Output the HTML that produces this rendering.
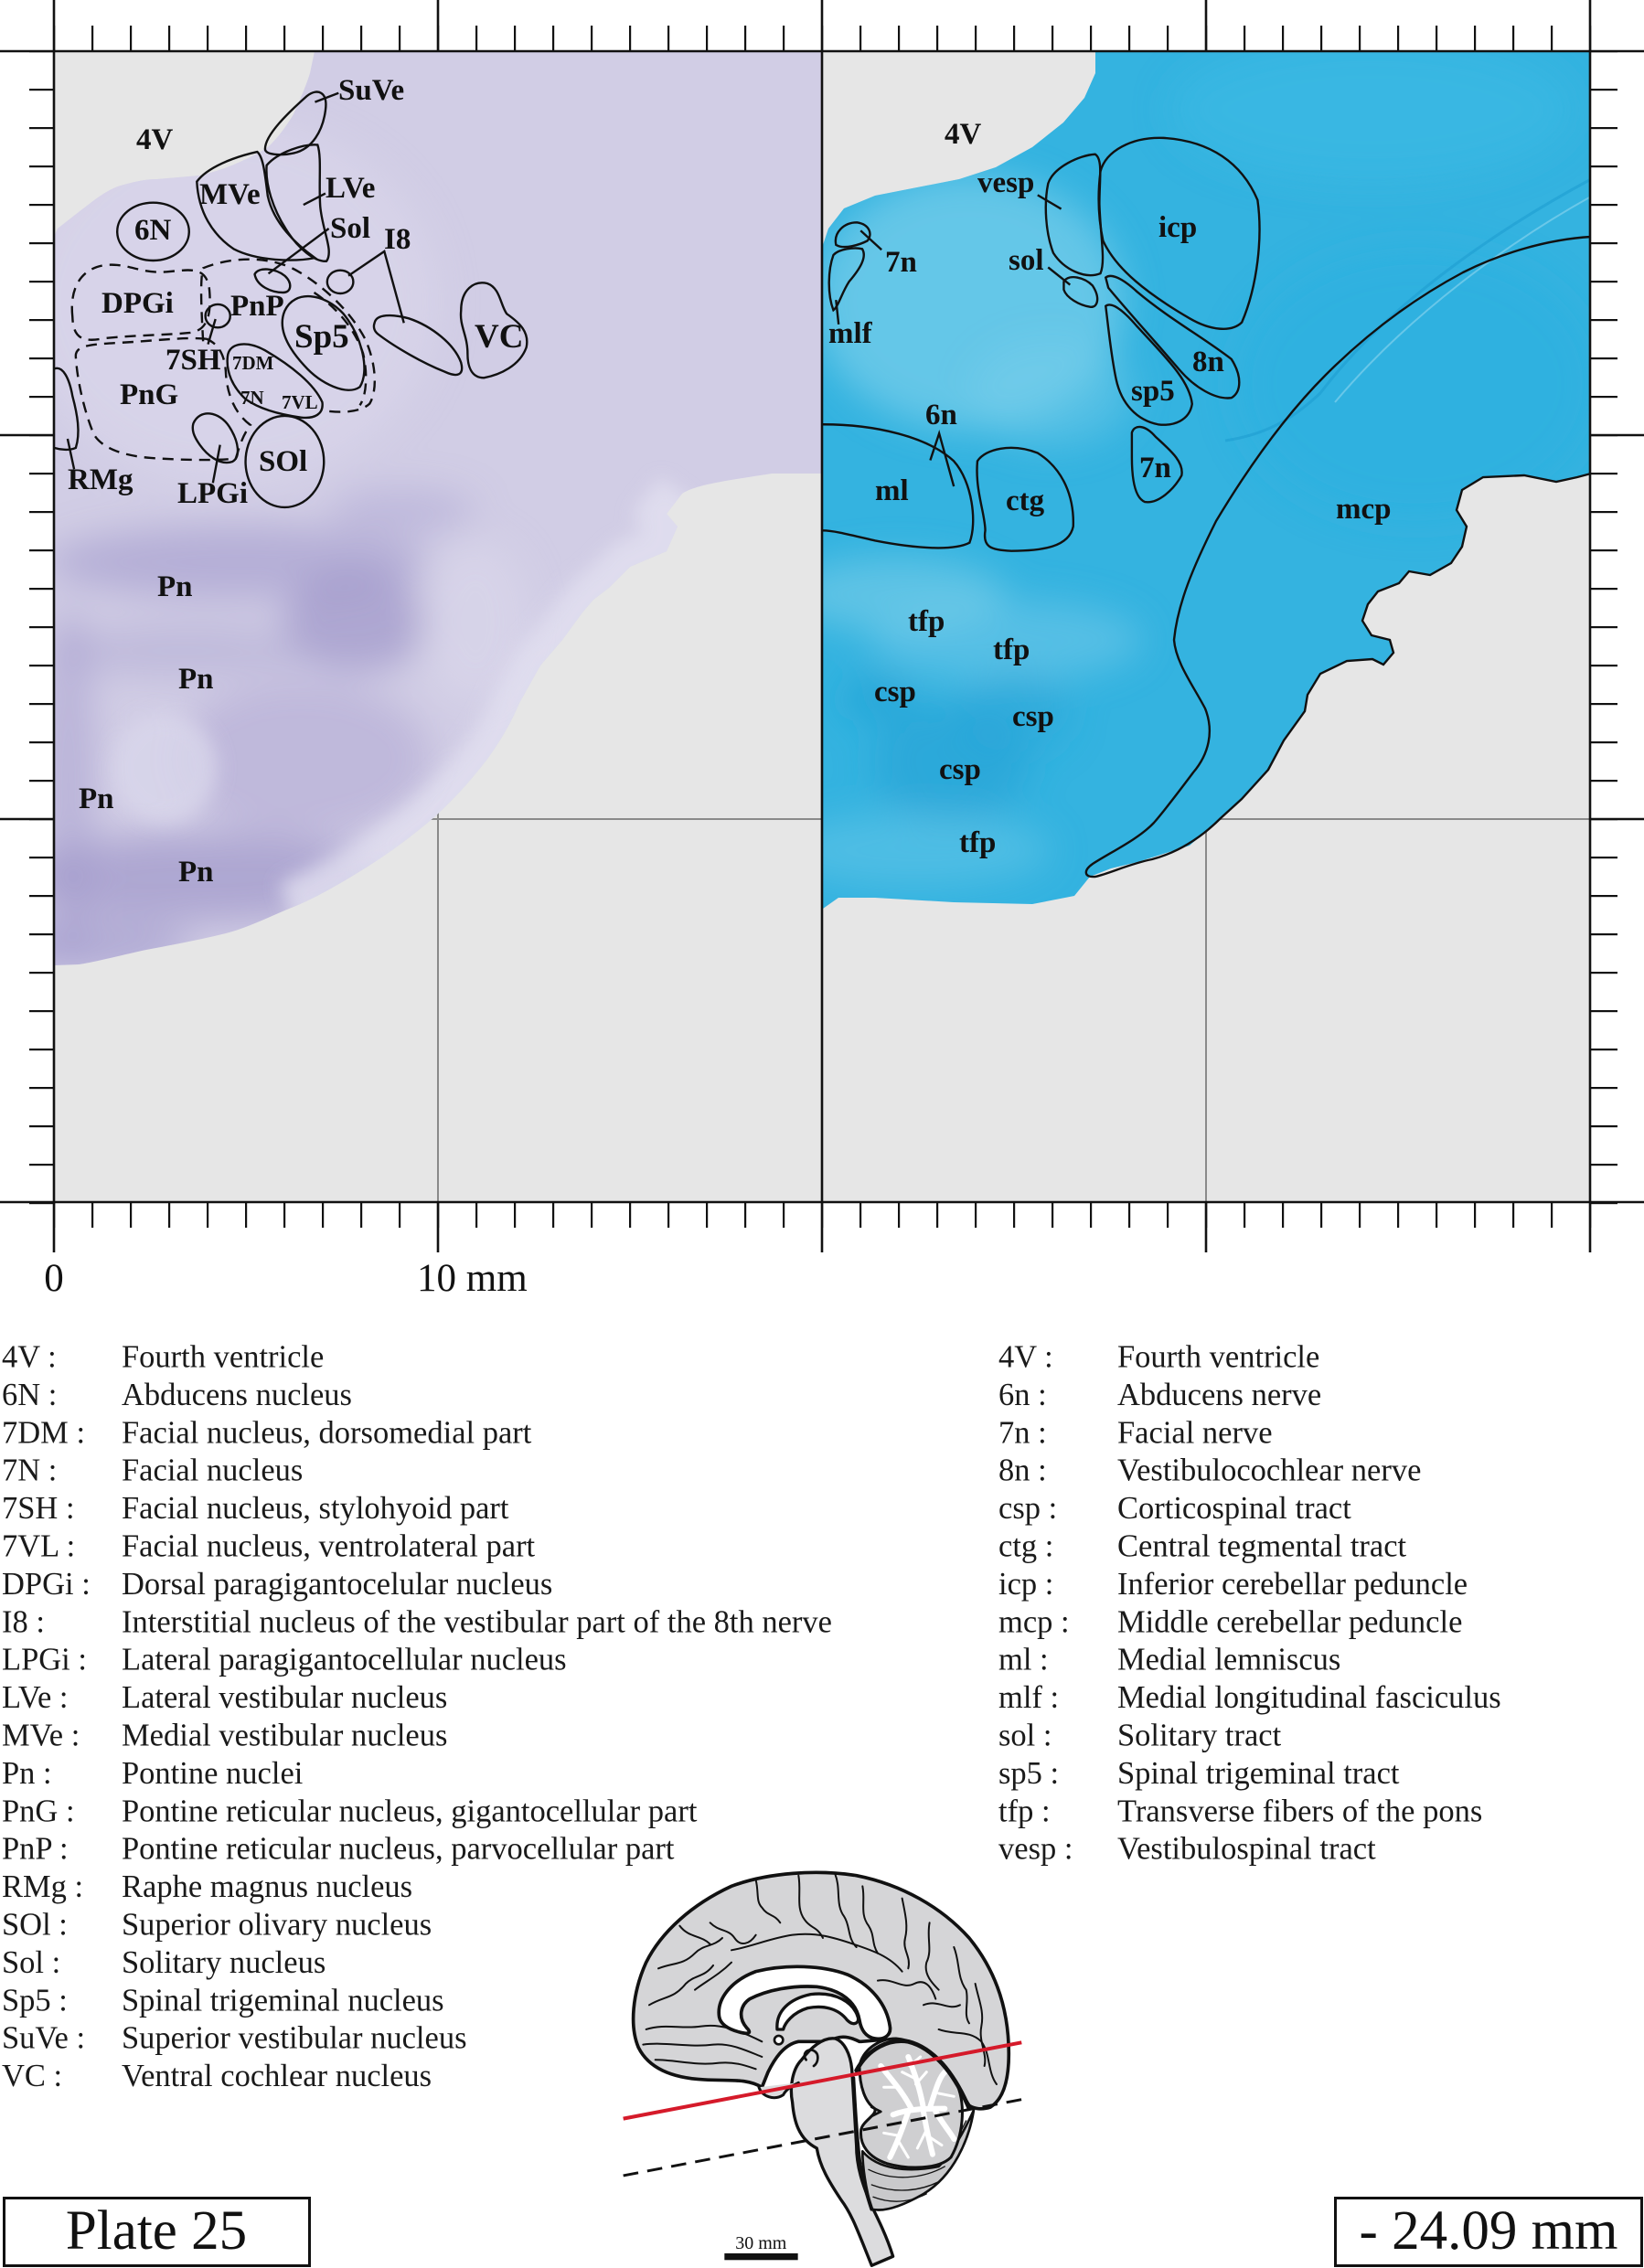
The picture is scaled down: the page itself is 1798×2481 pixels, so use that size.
<!DOCTYPE html>
<html><head><meta charset="utf-8">
<style>
html,body{margin:0;padding:0;background:#fff;}
svg{display:block;}
.lb{font-family:"Liberation Serif",serif;font-weight:bold;font-size:33px;fill:#111;}
.sm{font-family:"Liberation Serif",serif;font-weight:bold;font-size:21px;fill:#111;}
.lg{font-family:"Liberation Serif",serif;font-size:34.5px;fill:#1a1a1a;}
.ax{font-family:"Liberation Serif",serif;font-size:43px;fill:#111;}
.ol{fill:none;stroke:#111;stroke-width:2.4;vector-effect:non-scaling-stroke;}
.ds{fill:none;stroke:#111;stroke-width:2.4;stroke-dasharray:12 8;vector-effect:non-scaling-stroke;}
</style></head>
<body>
<svg width="1798" height="2481" viewBox="0 0 1798 2481" xmlns="http://www.w3.org/2000/svg">
<defs>
<clipPath id="cl"><path d="M344,56 L899,56 L899,518 L844,518 C800,525 760,530 746,540 L729,562 L741,576 L729,603 L689,620 L666,643 L649,656 L637,670 L615,700 L591,728 L568,769 C555,800 540,820 534,829 C510,860 495,875 476,893 C450,915 430,930 402,948 C370,968 340,985 316,994 C290,1005 270,1015 247,1021 C210,1030 180,1035 155,1040 C120,1048 100,1053 86,1055 L59,1056 L59,259 L63,250 L86,232 L103,219 C115,210 125,205 132,203 C150,198 160,196 172,196 L218,192 C235,188 250,183 258,179 C275,172 285,166 293,161 C305,150 315,135 321,125 C330,105 336,90 339,80 Z"/></clipPath>
<clipPath id="cr"><path d="M1198,56 L1740,56 L1740,518 L1725,522 L1702,527 L1667,520 L1622,522 L1599,536 L1593,558 L1604,576 L1599,598 L1587,616 L1564,629 L1541,625 L1530,638 L1507,647 L1496,661 L1490,679 L1500,695 L1520,700 L1524,714 L1513,727 L1501,721 L1473,723 L1444,737 L1430,760 L1427,778 L1404,810 L1387,842 L1358,874 L1335,895 L1301,925 L1244,943 L1215,950 L1192,959 L1175,980 L1129,989 L1043,987 L957,982 L917,982 L900,994 L900,268 L906,250 L923,228 L957,214 L1003,205 L1049,196 L1089,183 L1129,161 L1163,134 L1186,107 L1198,80 Z"/></clipPath>
<filter id="bl" x="-20%" y="-20%" width="140%" height="140%"><feGaussianBlur stdDeviation="20"/></filter>
<filter id="bl2" x="-20%" y="-20%" width="140%" height="140%"><feGaussianBlur stdDeviation="10"/></filter>
<pattern id="ptop" patternUnits="userSpaceOnUse" x="58" y="0" width="42" height="2481"><rect x="0" y="0" width="2.2" height="2481" fill="#111"/></pattern>
<pattern id="pside" patternUnits="userSpaceOnUse" x="0" y="55" width="1798" height="42"><rect x="0" y="0" width="1798" height="2.2" fill="#111"/></pattern>
</defs>

<!-- chart background -->
<rect x="59" y="56" width="1680" height="1259" fill="#e6e6e6"/>
<g stroke="#8a8a8a" stroke-width="2">
<line x1="479" y1="56" x2="479" y2="1315"/>
<line x1="1319" y1="56" x2="1319" y2="1315"/>
<line x1="59" y1="896" x2="1739" y2="896"/>
<line x1="59" y1="476" x2="1739" y2="476"/>
</g>

<!-- LEFT TISSUE -->
<g clip-path="url(#cl)">
<rect x="59" y="56" width="840" height="1000" fill="#d1cde5"/>
<g filter="url(#bl)">
<ellipse cx="250" cy="330" rx="230" ry="200" fill="#dad7eb" opacity=".6"/>
<ellipse cx="260" cy="615" rx="210" ry="40" fill="#9f97ca" opacity=".55"/>
<ellipse cx="390" cy="680" rx="80" ry="55" fill="#968ec5" opacity=".6"/>
<ellipse cx="200" cy="712" rx="150" ry="28" fill="#a59dcd" opacity=".4"/>
<ellipse cx="330" cy="830" rx="140" ry="85" fill="#a49ccc" opacity=".4"/>
<ellipse cx="220" cy="960" rx="200" ry="48" fill="#968ec5" opacity=".6"/>
<ellipse cx="75" cy="860" rx="28" ry="200" fill="#a199cb" opacity=".5"/>
<ellipse cx="100" cy="1035" rx="110" ry="28" fill="#9d95c9" opacity=".6"/>
<ellipse cx="520" cy="680" rx="60" ry="90" fill="#d8d5ea" opacity=".7"/>
<ellipse cx="440" cy="560" rx="80" ry="25" fill="#a9a1d0" opacity=".45"/>
</g>
<ellipse cx="180" cy="840" rx="58" ry="60" fill="#d8d5ea" opacity=".85" filter="url(#bl2)"/>
<path d="M746,540 L729,562 L741,576 L729,603 L689,620 L666,643 L649,656 L637,670 L615,700 L591,728 L568,769 C555,800 540,820 534,829 C510,860 495,875 476,893 C450,915 430,930 402,948 C370,968 340,985 316,994" fill="none" stroke="#e2e0f0" stroke-width="60" opacity=".8" filter="url(#bl2)"/>
</g>

<!-- RIGHT TISSUE -->
<g clip-path="url(#cr)">
<rect x="900" y="56" width="840" height="940" fill="#34b3e0"/>
<g filter="url(#bl)">
<ellipse cx="1060" cy="330" rx="170" ry="140" fill="#86d3ec" opacity=".6"/>
<ellipse cx="1150" cy="430" rx="90" ry="60" fill="#7ccfea" opacity=".4"/>
<ellipse cx="980" cy="650" rx="120" ry="40" fill="#8ad4ec" opacity=".5"/>
<ellipse cx="1100" cy="700" rx="150" ry="45" fill="#7fcfea" opacity=".45"/>
<ellipse cx="1040" cy="835" rx="85" ry="65" fill="#23a2d6" opacity=".6"/>
<ellipse cx="1110" cy="780" rx="60" ry="45" fill="#27a6d8" opacity=".5"/>
<ellipse cx="960" cy="765" rx="40" ry="25" fill="#22a0d4" opacity=".6"/>
<ellipse cx="1000" cy="930" rx="150" ry="40" fill="#6fc9e8" opacity=".45"/>
<ellipse cx="1550" cy="420" rx="200" ry="150" fill="#2aafe0" opacity=".5"/>
<ellipse cx="1500" cy="120" rx="220" ry="80" fill="#3cbbe6" opacity=".5"/>
</g>
<path d="M1740,196 C1640,250 1520,330 1444,430 C1410,462 1380,476 1340,482" fill="none" stroke="#1e9dd0" stroke-width="3" opacity=".6"/>
<path d="M1740,215 C1650,265 1540,345 1460,440" fill="none" stroke="#8fd6ee" stroke-width="2" opacity=".6"/>
</g>

<!-- mcp outline -->
<path class="ol" d="M1740,259 C1690,262 1640,278 1600,298 C1540,330 1490,370 1450,410 C1400,460 1360,520 1330,570 C1305,620 1288,660 1284,700 C1286,725 1305,750 1318,775 C1328,800 1322,825 1305,845 C1290,865 1275,885 1262,900 C1245,918 1215,932 1195,945 C1185,952 1185,960 1198,959 C1215,955 1235,945 1260,940 C1290,932 1315,915 1335,895 L1358,874 L1387,842 L1404,810 L1427,778 L1430,760 L1444,737 L1473,723 L1501,721 L1513,727 L1524,714 L1520,700 L1500,695 L1490,679 L1496,661 L1507,647 L1530,638 L1541,625 L1564,629 L1587,616 L1599,598 L1604,576 L1593,558 L1599,536 L1622,522 L1667,520 L1702,527 L1725,522 L1740,518"/>

<!-- left outlines (zoom1 coords) -->
<g transform="matrix(0.5741 0 0 0.4464 0 0)">
<path class="ol" d="M505,365 C505,330 550,275 585,235 C605,215 625,225 620,270 C615,320 595,365 560,375 C535,382 505,380 505,365 Z"/>
<path class="ol" d="M600,250 L645,228"/>
<path class="ol" d="M375,445 C395,410 445,385 490,372 C502,385 505,430 510,480 C520,540 555,590 600,632 C560,642 490,640 445,610 C405,575 378,520 375,445 Z"/>
<path class="ol" d="M508,405 C530,372 580,352 605,355 C613,385 607,445 610,505 C614,565 636,615 622,640 C600,642 568,610 545,562 C520,512 505,452 508,405 Z"/>
<path class="ol" d="M578,502 L620,474"/>
</g>

<!-- left outlines (zoom10 coords) -->
<g transform="matrix(0.3571 0 0 0.3333 40 200)">
<ellipse class="ol" cx="357" cy="160" rx="110" ry="95"/>
<path class="ds" d="M110,440 C100,340 140,280 210,270 C280,262 320,300 400,292 C470,285 525,270 530,360 C535,440 520,485 470,492 C390,500 300,500 210,510 C140,525 112,510 110,440 Z"/>
<path class="ds" d="M520,512 C450,505 350,520 250,525 C160,530 118,535 120,570 C125,660 150,760 175,825 C200,870 260,895 350,903 C450,910 540,912 610,905 C620,870 630,830 655,795 C610,760 585,700 580,630 C578,570 560,530 520,512"/>
<path class="ds" d="M510,520 C505,420 500,320 510,280 C600,240 720,240 800,290 C880,340 960,420 1005,510 C1040,590 1045,680 1020,725 C990,755 930,755 880,748"/>
<path class="ds" d="M850,360 C920,410 975,480 1000,560 C1015,630 1010,700 990,730"/>
<ellipse class="ol" cx="555" cy="437" rx="38" ry="38"/>
<path class="ol" d="M548,447 L525,530"/>
<path class="ol" d="M668,300 C680,275 730,280 760,305 C785,330 780,360 755,360 C720,360 675,340 668,300 Z"/>
<path class="ol" d="M710,298 L895,150"/>
<ellipse class="ol" cx="930" cy="325" rx="40" ry="38"/>
<path class="ol" d="M955,305 L1065,225 L1125,460"/>
<path class="ol" d="M1035,460 C1040,430 1090,430 1140,445 C1210,470 1280,530 1300,590 C1310,630 1290,640 1250,620 C1180,590 1100,540 1050,500 C1035,490 1030,475 1035,460 Z"/>
<path class="ol" d="M1300,420 C1300,350 1340,320 1380,330 C1420,345 1420,400 1440,430 C1480,460 1510,490 1500,540 C1480,600 1420,630 1370,640 C1330,640 1320,600 1320,560 C1320,500 1295,470 1300,420 Z"/>
<path class="ol" d="M760,420 C790,350 880,360 940,430 C1000,510 1020,620 990,670 C950,700 870,660 820,600 C760,530 740,470 760,420 Z"/>
<path class="ol" d="M585,570 C590,520 650,520 700,550 C780,600 850,660 875,720 C880,760 850,775 810,770 C740,760 680,740 640,710 C600,670 580,620 585,570 Z"/>
<path class="ol" d="M480,790 C500,740 560,750 590,800 C620,850 625,900 600,915 C560,930 520,890 500,860 C480,830 475,810 480,790 Z"/>
<path class="ol" d="M562,860 L540,985"/>
<ellipse class="ol" cx="760" cy="915" rx="120" ry="150"/>
<path class="ol" d="M55,610 C80,600 100,640 110,700 C125,760 135,820 120,870 C100,880 70,875 55,870"/>
<path class="ol" d="M95,840 L115,940"/>
</g>

<!-- right outlines (zoom2 coords) -->
<g transform="matrix(0.5727 0 0 0.4464 900 0)">
<path class="ol" d="M430,450 C440,410 490,380 520,378 C535,390 528,440 528,500 C530,580 540,640 530,670 C500,685 460,660 440,620 C425,570 422,500 430,450 Z"/>
<path class="ol" d="M410,478 L455,512"/>
<path class="ol" d="M530,420 C540,370 590,335 650,338 C740,345 800,400 830,490 C840,580 830,700 800,790 C780,815 740,810 700,780 C620,720 560,660 535,590 C525,530 525,470 530,420 Z"/>
<path class="ol" d="M460,690 C470,670 500,680 515,700 C530,730 525,755 510,752 C490,748 465,730 460,710 Z"/>
<path class="ol" d="M430,655 L472,698"/>
<path class="ol" d="M540,680 C550,670 570,680 600,715 C660,780 730,830 780,880 C800,920 800,960 780,975 C750,980 710,950 680,905 C630,830 580,760 545,705 Z"/>
<path class="ol" d="M540,750 C550,740 570,755 600,800 C650,870 700,930 705,990 C700,1030 670,1045 640,1040 C600,1030 570,990 560,930 C550,870 545,800 540,750 Z"/>
<path class="ol" d="M590,1060 C595,1040 615,1040 635,1070 C660,1100 690,1130 685,1165 C670,1200 640,1235 615,1230 C595,1220 590,1170 590,1120 Z"/>
<path class="ol" d="M25,600 C20,570 40,545 65,545 C90,550 95,575 85,590 C70,600 40,612 25,600 Z"/>
<path class="ol" d="M72,565 L112,612"/>
<path class="ol" d="M20,760 C8,720 10,660 20,625 C30,610 60,605 75,610 C85,630 70,660 50,690 C35,720 30,750 20,760 Z"/>
<path class="ol" d="M25,735 L30,795"/>
<path class="ol" d="M0,1040 C100,1040 200,1070 250,1130 C285,1180 295,1280 280,1330 C250,1350 180,1345 100,1325 C50,1310 20,1300 0,1300"/>
<path class="ol" d="M295,1130 C310,1100 360,1085 410,1110 C460,1150 480,1220 478,1290 C470,1340 420,1350 360,1350 C320,1348 305,1340 310,1300 C310,1260 290,1200 295,1130 Z"/>
<path class="ol" d="M205,1128 L222,1062 L250,1192"/>
</g>

<!-- left labels -->
<text class="lb" x="370" y="109">SuVe</text>
<text class="lb" x="149" y="163">4V</text>
<text class="lb" x="218" y="223">MVe</text>
<text class="lb" x="356" y="216">LVe</text>
<text class="lb" x="147" y="262">6N</text>
<text class="lb" x="361" y="260">Sol</text>
<text class="lb" x="420" y="272">I8</text>
<text class="lb" x="111" y="342">DPGi</text>
<text class="lb" x="252" y="345">PnP</text>
<text class="lb" x="322" y="380" style="font-size:37px">Sp5</text>
<text class="lb" x="519" y="380" style="font-size:37px">VC</text>
<text class="lb" x="181" y="404">7SH</text>
<text class="sm" x="254" y="404">7DM</text>
<text class="lb" x="131" y="442">PnG</text>
<text class="sm" x="263" y="442">7N</text>
<text class="sm" x="308" y="447">7VL</text>
<text class="lb" x="283" y="515">SOl</text>
<text class="lb" x="74" y="535">RMg</text>
<text class="lb" x="194" y="550">LPGi</text>
<text class="lb" x="172" y="652">Pn</text>
<text class="lb" x="195" y="753">Pn</text>
<text class="lb" x="86" y="884">Pn</text>
<text class="lb" x="195" y="964">Pn</text>

<!-- right labels -->
<text class="lb" x="1033" y="157">4V</text>
<text class="lb" x="1069" y="210">vesp</text>
<text class="lb" x="1267" y="259">icp</text>
<text class="lb" x="968" y="297">7n</text>
<text class="lb" x="1103" y="295">sol</text>
<text class="lb" x="906" y="375">mlf</text>
<text class="lb" x="1304" y="406">8n</text>
<text class="lb" x="1237" y="438">sp5</text>
<text class="lb" x="1012" y="464">6n</text>
<text class="lb" x="1246" y="522">7n</text>
<text class="lb" x="957" y="547">ml</text>
<text class="lb" x="1100" y="558">ctg</text>
<text class="lb" x="1461" y="567">mcp</text>
<text class="lb" x="993" y="690">tfp</text>
<text class="lb" x="1086" y="721">tfp</text>
<text class="lb" x="956" y="767">csp</text>
<text class="lb" x="1107" y="794">csp</text>
<text class="lb" x="1027" y="852">csp</text>
<text class="lb" x="1049" y="932">tfp</text>

<!-- ticks via patterns -->
<rect x="59" y="28" width="1682" height="28" fill="url(#ptop)"/>
<rect x="59" y="1315" width="1682" height="28" fill="url(#ptop)"/>
<rect x="32" y="56" width="27" height="1262" fill="url(#pside)"/>
<rect x="1739" y="56" width="30" height="1262" fill="url(#pside)"/>

<!-- axes and major ticks -->
<g stroke="#111" stroke-width="2.6" fill="none">
<line x1="0" y1="56" x2="1798" y2="56"/>
<line x1="0" y1="1315" x2="1798" y2="1315"/>
<line x1="59" y1="0" x2="59" y2="1370"/>
<line x1="899" y1="0" x2="899" y2="1370"/>
<line x1="1739" y1="0" x2="1739" y2="1370"/>
<line x1="479" y1="0" x2="479" y2="56"/>
<line x1="1319" y1="0" x2="1319" y2="56"/>
<line x1="479" y1="1315" x2="479" y2="1370"/>
<line x1="1319" y1="1315" x2="1319" y2="1370"/>
<line x1="0" y1="476" x2="59" y2="476"/>
<line x1="0" y1="896" x2="59" y2="896"/>
<line x1="1739" y1="476" x2="1798" y2="476"/>
<line x1="1739" y1="896" x2="1798" y2="896"/>
</g>
<text class="ax" x="59" y="1412" text-anchor="middle">0</text>
<text class="ax" x="456" y="1412">10 mm</text>

<!-- legend left -->
<g>
<text class="lg" x="2" y="1495.5">4V :</text><text class="lg" x="133" y="1495.5">Fourth ventricle</text>
<text class="lg" x="2" y="1536.9">6N :</text><text class="lg" x="133" y="1536.9">Abducens nucleus</text>
<text class="lg" x="2" y="1578.3">7DM :</text><text class="lg" x="133" y="1578.3">Facial nucleus, dorsomedial part</text>
<text class="lg" x="2" y="1619.7">7N :</text><text class="lg" x="133" y="1619.7">Facial nucleus</text>
<text class="lg" x="2" y="1661.1">7SH :</text><text class="lg" x="133" y="1661.1">Facial nucleus, stylohyoid part</text>
<text class="lg" x="2" y="1702.5">7VL :</text><text class="lg" x="133" y="1702.5">Facial nucleus, ventrolateral part</text>
<text class="lg" x="2" y="1743.9">DPGi :</text><text class="lg" x="133" y="1743.9">Dorsal paragigantocelular nucleus</text>
<text class="lg" x="2" y="1785.3">I8 :</text><text class="lg" x="133" y="1785.3">Interstitial nucleus of the vestibular part of the 8th nerve</text>
<text class="lg" x="2" y="1826.7">LPGi :</text><text class="lg" x="133" y="1826.7">Lateral paragigantocellular nucleus</text>
<text class="lg" x="2" y="1868.1">LVe :</text><text class="lg" x="133" y="1868.1">Lateral vestibular nucleus</text>
<text class="lg" x="2" y="1909.5">MVe :</text><text class="lg" x="133" y="1909.5">Medial vestibular nucleus</text>
<text class="lg" x="2" y="1950.9">Pn :</text><text class="lg" x="133" y="1950.9">Pontine nuclei</text>
<text class="lg" x="2" y="1992.3">PnG :</text><text class="lg" x="133" y="1992.3">Pontine reticular nucleus, gigantocellular part</text>
<text class="lg" x="2" y="2033.7">PnP :</text><text class="lg" x="133" y="2033.7">Pontine reticular nucleus, parvocellular part</text>
<text class="lg" x="2" y="2075.1">RMg :</text><text class="lg" x="133" y="2075.1">Raphe magnus nucleus</text>
<text class="lg" x="2" y="2116.5">SOl :</text><text class="lg" x="133" y="2116.5">Superior olivary nucleus</text>
<text class="lg" x="2" y="2157.9">Sol :</text><text class="lg" x="133" y="2157.9">Solitary nucleus</text>
<text class="lg" x="2" y="2199.3">Sp5 :</text><text class="lg" x="133" y="2199.3">Spinal trigeminal nucleus</text>
<text class="lg" x="2" y="2240.7">SuVe :</text><text class="lg" x="133" y="2240.7">Superior vestibular nucleus</text>
<text class="lg" x="2" y="2282.1">VC :</text><text class="lg" x="133" y="2282.1">Ventral cochlear nucleus</text>
</g>
<!-- legend right -->
<g>
<text class="lg" x="1092" y="1495.5">4V :</text><text class="lg" x="1222" y="1495.5">Fourth ventricle</text>
<text class="lg" x="1092" y="1536.9">6n :</text><text class="lg" x="1222" y="1536.9">Abducens nerve</text>
<text class="lg" x="1092" y="1578.3">7n :</text><text class="lg" x="1222" y="1578.3">Facial nerve</text>
<text class="lg" x="1092" y="1619.7">8n :</text><text class="lg" x="1222" y="1619.7">Vestibulocochlear nerve</text>
<text class="lg" x="1092" y="1661.1">csp :</text><text class="lg" x="1222" y="1661.1">Corticospinal tract</text>
<text class="lg" x="1092" y="1702.5">ctg :</text><text class="lg" x="1222" y="1702.5">Central tegmental tract</text>
<text class="lg" x="1092" y="1743.9">icp :</text><text class="lg" x="1222" y="1743.9">Inferior cerebellar peduncle</text>
<text class="lg" x="1092" y="1785.3">mcp :</text><text class="lg" x="1222" y="1785.3">Middle cerebellar peduncle</text>
<text class="lg" x="1092" y="1826.7">ml :</text><text class="lg" x="1222" y="1826.7">Medial lemniscus</text>
<text class="lg" x="1092" y="1868.1">mlf :</text><text class="lg" x="1222" y="1868.1">Medial longitudinal fasciculus</text>
<text class="lg" x="1092" y="1909.5">sol :</text><text class="lg" x="1222" y="1909.5">Solitary tract</text>
<text class="lg" x="1092" y="1950.9">sp5 :</text><text class="lg" x="1222" y="1950.9">Spinal trigeminal tract</text>
<text class="lg" x="1092" y="1992.3">tfp :</text><text class="lg" x="1222" y="1992.3">Transverse fibers of the pons</text>
<text class="lg" x="1092" y="2033.7">vesp :</text><text class="lg" x="1222" y="2033.7">Vestibulospinal tract</text>
</g>

<!-- brain sketch (zoom7 coords) -->
<g transform="matrix(0.3333 0 0 0.3333 660 2020)" stroke-linejoin="round" stroke-linecap="round">
<path d="M520,790 C470,760 420,770 330,765 C230,760 150,730 115,660 C85,590 95,480 140,380 C190,280 290,190 420,130 C540,85 700,75 830,95 C980,125 1110,200 1200,300 C1290,410 1330,540 1330,680 C1330,770 1310,830 1270,855 C1240,865 1215,860 1200,850 C1150,770 1100,700 1020,650 C950,620 880,640 840,640 C800,620 770,620 740,640 L640,640 C590,650 560,700 540,740 Z" fill="#d5d5d7" stroke="#111" stroke-width="11"/>
<g fill="none" stroke="#111" stroke-width="6">
<path d="M150,520 C200,490 230,500 270,450 C300,420 330,430 360,390"/>
<path d="M180,400 C230,380 260,390 300,350 C330,320 360,330 390,300"/>
<path d="M250,260 C280,300 320,290 350,320"/>
<path d="M350,250 C380,280 410,270 430,300 C450,330 480,320 500,290"/>
<path d="M500,110 C510,150 500,180 520,200 C540,230 560,220 580,250"/>
<path d="M640,95 C650,150 630,200 660,240 C680,270 700,260 720,300"/>
<path d="M760,90 C780,140 760,190 790,230 C810,260 800,300 830,330"/>
<path d="M850,130 C860,180 840,220 870,260 C890,290 880,320 900,350"/>
<path d="M980,170 C990,220 1000,260 990,300 C980,340 1010,360 1000,400"/>
<path d="M1070,250 C1060,300 1080,340 1060,380 C1050,420 1080,450 1100,470"/>
<path d="M1150,330 C1170,380 1160,430 1190,470 C1200,510 1180,550 1200,580"/>
<path d="M1220,450 C1230,500 1250,540 1240,590 C1230,640 1260,680 1250,720"/>
<path d="M420,340 C480,330 550,300 620,290 C700,280 760,300 820,320 C880,340 940,360 980,410"/>
<path d="M300,470 C340,440 380,420 420,380"/>
<path d="M140,600 C200,580 260,600 320,590 C380,580 440,600 520,640"/>
<path d="M130,650 C200,640 280,660 360,650 C420,645 470,670 520,690"/>
<path d="M170,700 C240,700 300,720 380,710 C430,705 470,720 500,730"/>
<path d="M1100,600 C1150,620 1200,600 1240,640 C1270,680 1260,740 1290,780"/>
<path d="M1050,520 C1100,500 1130,540 1170,520"/>
<path d="M900,440 C950,430 980,470 1020,450 C1060,430 1080,470 1090,500"/>
</g>
<path d="M380,560 C370,500 420,440 500,410 C600,385 720,390 800,420 C880,455 930,520 940,590 C945,620 920,635 890,630 C860,625 845,600 840,570 C830,510 780,470 700,460 C620,455 540,470 480,500 C450,520 440,560 470,595 C490,615 470,615 450,610 C410,600 385,585 380,560 Z" fill="#fff" stroke="#111" stroke-width="11"/>
<path d="M570,600 C565,540 610,500 680,485 C760,475 820,510 835,560 C840,580 820,590 800,570 C770,530 720,520 670,530 C620,545 595,580 590,600 Z" fill="#fff" stroke="#111" stroke-width="10"/>
<circle cx="575" cy="635" r="14" fill="#fff" stroke="#111" stroke-width="8"/>
<path d="M650,700 C620,730 610,790 620,840 C625,900 640,960 700,990 C710,1050 740,1100 780,1160 C810,1200 830,1250 850,1300 L880,1375 L950,1345 C930,1280 900,1220 880,1180 C850,1110 830,1050 830,980 C825,900 820,800 815,730 C810,680 790,640 760,630 C720,625 680,660 650,700 Z" fill="#dcdcde" stroke="#111" stroke-width="10"/>
<path d="M665,700 C650,680 670,660 690,670 C710,680 705,710 690,720" fill="none" stroke="#111" stroke-width="8"/>
<path d="M510,790 C520,820 560,835 590,815 C600,795 620,785 640,775" fill="#dcdcde" stroke="#111" stroke-width="9"/>
<path d="M850,1000 C900,1060 1000,1070 1100,1050 C1150,1000 1190,920 1215,865 C1200,960 1150,1080 1050,1140 C980,1180 920,1200 880,1190 C860,1120 850,1050 850,1000 Z" fill="#c9c9cb" stroke="#111" stroke-width="8"/>
<g fill="none" stroke="#111" stroke-width="4">
<path d="M870,1060 C950,1100 1050,1090 1120,1050"/>
<path d="M880,1110 C960,1140 1040,1130 1100,1100"/>
<path d="M885,1150 C950,1175 1010,1165 1060,1140"/>
<path d="M1140,1000 L1190,900"/>
</g>
<path d="M840,720 C850,670 900,630 960,630 C1050,640 1120,700 1160,780 C1190,850 1180,950 1140,1020 C1100,1060 1000,1060 930,1040 C870,1020 840,980 845,930 C850,900 900,880 890,860 C860,840 840,790 840,720 Z" fill="#cfcfd1" stroke="#111" stroke-width="9"/>
<g fill="none" stroke="#fff" stroke-width="18">
<path d="M1120,860 C1060,860 1000,860 950,880"/>
<path d="M1050,860 C1040,800 1020,740 1000,690"/>
<path d="M1010,860 C980,800 940,760 910,720"/>
<path d="M1070,860 C1090,800 1100,760 1120,740"/>
<path d="M1000,870 C980,930 960,980 940,1020"/>
<path d="M1050,870 C1060,930 1070,970 1080,1010"/>
<path d="M1090,870 C1120,920 1140,940 1150,960"/>
</g>
<g fill="none" stroke="#fff" stroke-width="9">
<path d="M1020,760 L980,740"/><path d="M1025,780 L1060,740"/><path d="M960,790 L920,790"/>
<path d="M975,950 L920,940"/><path d="M970,970 L1000,1020"/><path d="M1065,950 L1110,980"/>
<path d="M1060,930 L1030,990"/><path d="M1100,810 L1150,820"/><path d="M1005,720 L1040,690"/>
</g>
<path d="M830,735 C870,660 940,630 1000,640 C1080,660 1150,740 1200,860" fill="none" stroke="#111" stroke-width="14"/>
<path d="M820,760 C825,850 830,950 840,1030 C850,1100 870,1160 880,1190" fill="none" stroke="#111" stroke-width="12"/>
<path d="M880,855 L910,870 L880,885" fill="none" stroke="#111" stroke-width="8"/>
<line x1="65" y1="893" x2="1372" y2="643" stroke="#d51a2a" stroke-width="12" stroke-linecap="butt"/>
<line x1="65" y1="1080" x2="1372" y2="830" stroke="#111" stroke-width="9" stroke-dasharray="50 30" stroke-linecap="butt"/>
<rect x="397" y="1335" width="241" height="22" fill="#111"/>
<text x="517" y="1320" text-anchor="middle" style="font-family:'Liberation Serif',serif;font-size:60px;fill:#111">30 mm</text>
</g>

<!-- plate boxes -->
<rect x="4.5" y="2404.5" width="334" height="74" fill="#fff" stroke="#111" stroke-width="3"/>
<text x="171" y="2460" text-anchor="middle" style="font-family:'Liberation Serif',serif;font-size:61px;fill:#111">Plate 25</text>
<rect x="1460.5" y="2404.5" width="335" height="74" fill="#fff" stroke="#111" stroke-width="3"/>
<text x="1628" y="2460" text-anchor="middle" style="font-family:'Liberation Serif',serif;font-size:61px;fill:#111">- 24.09 mm</text>
</svg>
</body></html>
